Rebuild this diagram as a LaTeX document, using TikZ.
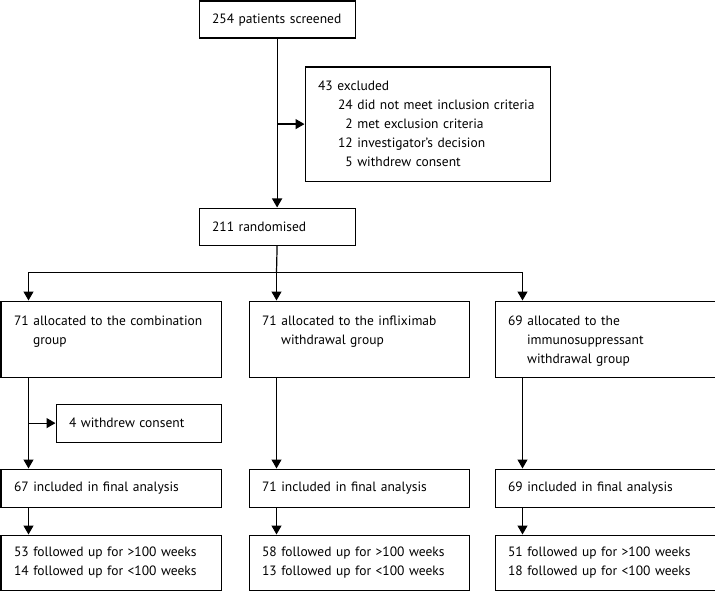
\documentclass[tikz,border=0pt]{standalone}
\usepackage{fontspec}
\setmainfont{PT Sans}
\usetikzlibrary{arrows.meta}

\begin{document}
\begin{tikzpicture}[x=1bp, y=-1bp, font=\fontsize{13.5bp}{19bp}\selectfont,
    box/.style={draw, line width=1.2bp, anchor=north west, inner xsep=13bp, inner ysep=0bp, align=left},
    groupbox/.style={box, text width=194bp, text height=24bp, text depth=52bp},
    arr/.style={line width=1.2bp, -{Triangle[width=10bp,length=9bp]}}]
    \useasboundingbox (0,0) rectangle (715,591);

    \node[box, text width=130bp, minimum height=37bp] (screened) at (198.5,0.5) {254 patients screened};
    \node[box, text width=219bp, minimum height=114bp] (excluded) at (304.5,66.5) {43 excluded\\
      \hspace*{20bp}24 did not meet inclusion criteria\\
      \hspace*{20bp}\hphantom{0}2 met exclusion criteria\\
      \hspace*{20bp}12 investigator’s decision\\
      \hspace*{20bp}\hphantom{0}5 withdrew consent};
    \node[box, text width=130bp, minimum height=37bp] (randomised) at (198.5,207.5) {211 randomised};

    \node[groupbox] (combination) at (0.5,300.5) {71 allocated to the combination\\\hspace*{19bp}group};
    \node[groupbox] (infliximab) at (248.5,300.5) {71 allocated to the infliximab\\\hspace*{19bp}withdrawal group};
    \node[groupbox] (immuno) at (494.5,300.5) {69 allocated to the\\\hspace*{19bp}immunosuppressant\\\hspace*{19bp}withdrawal group};

    \node[box, text width=139bp, minimum height=38bp] (withdrew) at (55.5,403.5) {4 withdrew consent};

    \node[box, text width=194bp, minimum height=38bp] (combination final) at (0.5,468.5) {67 included in final analysis};
    \node[box, text width=194bp, minimum height=38bp] (infliximab final) at (248.5,468.5) {71 included in final analysis};
    \node[box, text width=194bp, minimum height=38bp] (immuno final) at (494.5,468.5) {69 included in final analysis};

    \node[box, text width=194bp, minimum height=55bp] (combination follow) at (0.5,534.5) {53 followed up for >100 weeks\\14 followed up for <100 weeks};
    \node[box, text width=194bp, minimum height=55bp] (infliximab follow) at (248.5,534.5) {58 followed up for >100 weeks\\13 followed up for <100 weeks};
    \node[box, text width=194bp, minimum height=55bp] (immuno follow) at (494.5,534.5) {51 followed up for >100 weeks\\18 followed up for <100 weeks};

    \draw[arr] (screened.south) -- (randomised.north);
    \draw[arr] (screened.south |- excluded.west) -- (excluded.west);

    \coordinate (split) at (276.5,272.5);
    \draw[line width=1.2bp] (randomised.south) -- (split);
    \draw[arr] (split) -| ([xshift=28bp]combination.north west);
    \draw[arr] (split) -| ([xshift=28bp]infliximab.north west);
    \draw[arr] (split) -| ([xshift=28bp]immuno.north west);

    \draw[arr] ([xshift=28bp]combination.south west) -- ([xshift=28bp]combination final.north west);
    \draw[arr] ([xshift=28bp]combination.south west |- withdrew.west) -- (withdrew.west);
    \draw[arr] ([xshift=28bp]infliximab.south west) -- ([xshift=28bp]infliximab final.north west);
    \draw[arr] ([xshift=28bp]immuno.south west) -- ([xshift=28bp]immuno final.north west);

    \draw[arr] ([xshift=28bp]combination final.south west) -- ([xshift=28bp]combination follow.north west);
    \draw[arr] ([xshift=28bp]infliximab final.south west) -- ([xshift=28bp]infliximab follow.north west);
    \draw[arr] ([xshift=28bp]immuno final.south west) -- ([xshift=28bp]immuno follow.north west);

  \end{tikzpicture}
\end{document}
